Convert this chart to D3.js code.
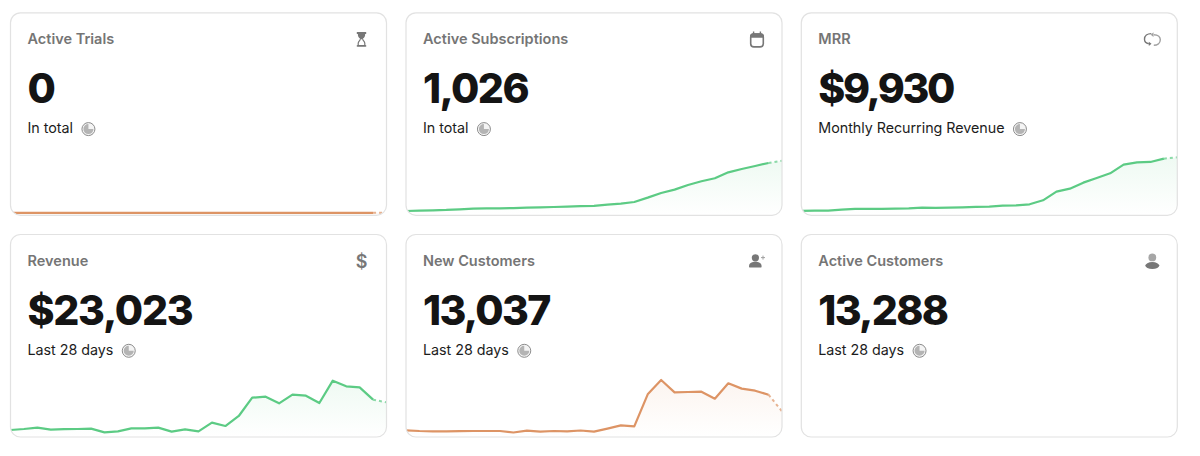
<!DOCTYPE html>
<html>
<head>
<meta charset="utf-8">
<title>Dashboard cards</title>
<script src="https://cdn.jsdelivr.net/npm/d3@7"></script>
<style>
    html, body { margin: 0; padding: 0; background: #fff; }
    svg { display: block; }
    text { font-family: Inter, "Noto Sans", sans-serif; }
</style>
</head>
<body>
<div id="chart"></div>
<script>
// Card texts
const titles = ['Active Trials', 'Active Subscriptions', 'MRR', 'Revenue', 'New Customers', 'Active Customers'];
const bigValues = ['0', '1,026', '$9,930', '$23,023', '13,037', '13,288'];
const subtitles = ['In total', 'In total', 'Monthly Recurring Revenue', 'Last 28 days', 'Last 28 days', 'Last 28 days'];

// Series (29 points each, last segment is dashed)
const trials = [0, 0, 0, 0, 0, 0, 0, 0, 0, 0, 0, 0, 0, 0, 0, 0, 0, 0, 0, 0, 0, 0, 0, 0, 0, 0, 0, 0, 0];
const subscriptions = [81, 88, 94, 100, 112, 125, 128, 131, 134, 144, 150, 156, 162, 172, 175, 200, 219, 250, 331, 419, 481, 569, 638, 694, 806, 869, 925, 981, 1025];
const mrr = [758, 817, 817, 992, 1108, 1108, 1108, 1167, 1225, 1342, 1283, 1342, 1400, 1458, 1517, 1692, 1750, 1925, 2625, 4142, 4667, 5717, 6533, 7350, 8867, 9275, 9333, 9917, 10150];
const revenue = [262, 300, 350, 275, 294, 300, 312, 175, 212, 325, 325, 350, 200, 288, 212, 538, 412, 788, 1475, 1512, 1262, 1588, 1550, 1275, 2112, 1900, 1862, 1400, 1300];
const newCustomers = [150, 135, 128, 128, 131, 135, 135, 135, 101, 142, 120, 135, 128, 146, 120, 188, 262, 240, 960, 1282, 1005, 1012, 1020, 862, 1208, 1088, 1042, 952, 578];

const width = 1200;
const height = 456;
const green = '#5ccb84';
const orange = '#dd9465';

// Layout of the 3 x 2 grid
const cardX = [10.5, 406, 801.3];
const cardY = [12.8, 234.5];
const cardW = 376;
const cardH = 202.5;
const chartH = 80;

const cards = [
    { series: trials, domain: [-1, 31], color: orange, icon: 'hourglass', tracking: -1.6 },
    { series: subscriptions, domain: [0, 1500], color: green, icon: 'calendar', tracking: -1.6 },
    { series: mrr, domain: [0, 14000], color: green, icon: 'repeat', tracking: -2.4 },
    { series: revenue, domain: [0, 3000], color: green, icon: 'dollar', tracking: -1.3 },
    { series: newCustomers, domain: [0, 1800], color: orange, icon: 'userPlus', tracking: -1.7 },
    { series: null, icon: 'user', tracking: -1.7 }
];

const svg = d3.select('#chart')
    .append('svg')
    .attr('width', width)
    .attr('height', height);

const defs = svg.append('defs');

// One gradient per colour for the area under the line
[['green', green], ['orange', orange]].forEach(([name, c]) => {
    const grad = defs.append('linearGradient')
        .attr('id', 'fade-' + name)
        .attr('x1', 0).attr('y1', 0).attr('x2', 0).attr('y2', 1);
    grad.append('stop').attr('offset', '0%').attr('stop-color', c).attr('stop-opacity', 0.1);
    grad.append('stop').attr('offset', '100%').attr('stop-color', c).attr('stop-opacity', 0);
});

const iconGray = '#777777';

// Small hand drawn icons, each centred on 0,0
function drawIcon(g, name) {
    if (name === 'hourglass') {
        g.append('path').attr('fill', iconGray)
            .attr('d', 'M-4.7,-7.2H4.7V-5.4H3.6V-4C3.6,-2 1.5,-1 1,0H-1C-1.5,-1 -3.6,-2 -3.6,-4V-5.4H-4.7Z');
        g.append('path').attr('fill', 'none').attr('stroke', iconGray).attr('stroke-width', 1.2)
            .attr('d', 'M-1,0C-1.5,1 -3.3,2 -3.3,4V6.3H3.3V4C3.3,2 1.5,1 1,0');
        g.append('path').attr('stroke', iconGray).attr('stroke-width', 1.6).attr('d', 'M-4.7,6.6H4.7');
    } else if (name === 'calendar') {
        g.append('rect').attr('x', -6.3).attr('y', -5.3).attr('width', 12.6).attr('height', 12.9).attr('rx', 3.2)
            .attr('fill', '#fff').attr('stroke', iconGray).attr('stroke-width', 1.6);
        g.append('path').attr('fill', iconGray)
            .attr('d', 'M-7,-1.6V-3C-7,-4.8 -5.6,-6 -4,-6H4C5.6,-6 7,-4.8 7,-3V-1.6Z');
        g.append('path').attr('stroke', iconGray).attr('stroke-width', 1.4).attr('d', 'M-3.4,-7.8V-5M3.4,-7.8V-5');
    } else if (name === 'repeat') {
        g.append('path').attr('fill', 'none').attr('stroke', iconGray).attr('stroke-width', 1.4)
            .attr('d', 'M-1,-5.7C-5,-5.7 -7.8,-3.5 -7.8,0C-7.8,2.5 -6,4 -3.5,4.5');
        g.append('path').attr('fill', iconGray).attr('d', 'M-3.5,2.4V6.6L-0.8,4.5Z');
        g.append('path').attr('fill', 'none').attr('stroke', '#a0a0a0').attr('stroke-width', 1.4)
            .attr('d', 'M1.5,-4.5C6,-4.5 8,-2 8,0.5C8,4 5,6 1.5,6');
        g.append('path').attr('fill', '#a0a0a0').attr('d', 'M1.2,-7V-2.4L-1.6,-4.6Z');
    } else if (name === 'dollar') {
        g.append('text').attr('text-anchor', 'middle').attr('y', 6.5)
            .attr('font-size', 18).attr('font-weight', 600).attr('fill', iconGray).text('$');
    } else if (name === 'userPlus') {
        g.append('circle').attr('cx', -1.6).attr('cy', -3.2).attr('r', 3.6).attr('fill', iconGray);
        g.append('path').attr('fill', iconGray)
            .attr('d', 'M-8,5.4C-8,1.8 -4.4,0.8 -1.6,0.8C1.2,0.8 4.6,1.8 4.6,5.4C4.6,6.3 4,6.6 3.2,6.6H-6.6C-7.4,6.6 -8,6.3 -8,5.4Z');
        g.append('path').attr('stroke', '#a0a0a0').attr('stroke-width', 1).attr('d', 'M4,-3.4H8M6,-5.4V-1.4');
    } else if (name === 'user') {
        g.append('circle').attr('cy', -3.6).attr('r', 3.9).attr('fill', '#a6a6a6');
        g.append('ellipse').attr('cy', 4.6).attr('rx', 7).attr('ry', 3.5).attr('fill', iconGray);
    }
}

// Little round "time" badge next to the subtitle
const badgeArc = d3.arc().innerRadius(0).outerRadius(5);

function drawBadge(g) {
    g.append('circle').attr('r', 6.5).attr('fill', '#f4f4f4').attr('stroke', '#8c8c8c').attr('stroke-width', 1);
    g.append('path')
        .attr('d', badgeArc({ startAngle: Math.PI / 2, endAngle: 2 * Math.PI }))
        .attr('fill', '#b4b4b4');
}

cards.forEach((card, i) => {
    const x0 = cardX[i % 3];
    const y0 = cardY[Math.floor(i / 3)];
    const g = svg.append('g').attr('transform', `translate(${x0}, ${y0})`);

    // The chart is cut by the rounded card corners
    defs.append('clipPath').attr('id', 'clip-' + i)
        .append('rect')
        .attr('width', cardW).attr('height', cardH).attr('rx', 10);

    g.append('rect')
        .attr('width', cardW).attr('height', cardH).attr('rx', 10)
        .attr('fill', '#fff');

    if (card.series) {
        const x = d3.scaleLinear().domain([0, card.series.length - 1]).range([0, cardW]);
        const y = d3.scaleLinear().domain(card.domain).range([cardH, cardH - chartH]);
        const last = card.series.length - 1;
        const points = card.series.map((v, j) => [j, v]);

        const line = d3.line().x(d => x(d[0])).y(d => y(d[1]));
        const area = d3.area().x(d => x(d[0])).y0(y(card.domain[0])).y1(d => y(d[1]));
        const plot = g.append('g').attr('clip-path', `url(#clip-${i})`);

        plot.append('path')
            .attr('d', area(points))
            .attr('fill', `url(#fade-${card.color === green ? 'green' : 'orange'})`);
        plot.append('path')
            .attr('d', line(points.slice(0, last)))
            .attr('fill', 'none')
            .attr('stroke', card.color)
            .attr('stroke-width', 2.2)
            .attr('stroke-linejoin', 'round');
        plot.append('path')
            .attr('d', line(points.slice(last - 1)))
            .attr('fill', 'none')
            .attr('stroke', card.color)
            .attr('stroke-width', 2)
            .attr('stroke-dasharray', '3 3')
            .attr('opacity', 0.7);
    }

    g.append('rect')
        .attr('width', cardW).attr('height', cardH).attr('rx', 10)
        .attr('fill', 'none')
        .attr('stroke', '#e2e2e2')
        .attr('stroke-width', 1.2);

    g.append('text')
        .attr('x', 17).attr('y', 31.2)
        .attr('font-size', 14.5).attr('font-weight', 600)
        .attr('fill', '#757575')
        .text(titles[i]);

    g.append('text')
        .attr('x', 17).attr('y', 90.5)
        .attr('font-size', 41).attr('font-weight', 800)
        .attr('letter-spacing', card.tracking)
        .attr('fill', '#141414')
        .text(bigValues[i]);

    const sub = g.append('text')
        .attr('x', 17).attr('y', 120.5)
        .attr('font-size', 14.3).attr('font-weight', 400)
        .attr('letter-spacing', -0.03)
        .attr('fill', '#1c1c1c')
        .text(subtitles[i]);

    const subEnd = 17 + sub.node().getComputedTextLength();
    drawBadge(g.append('g').attr('transform', `translate(${subEnd + 15.5}, 116.3)`));

    drawIcon(g.append('g').attr('transform', `translate(${cardW - 25}, 26.5)`), card.icon);
});
</script>
</body>
</html>
